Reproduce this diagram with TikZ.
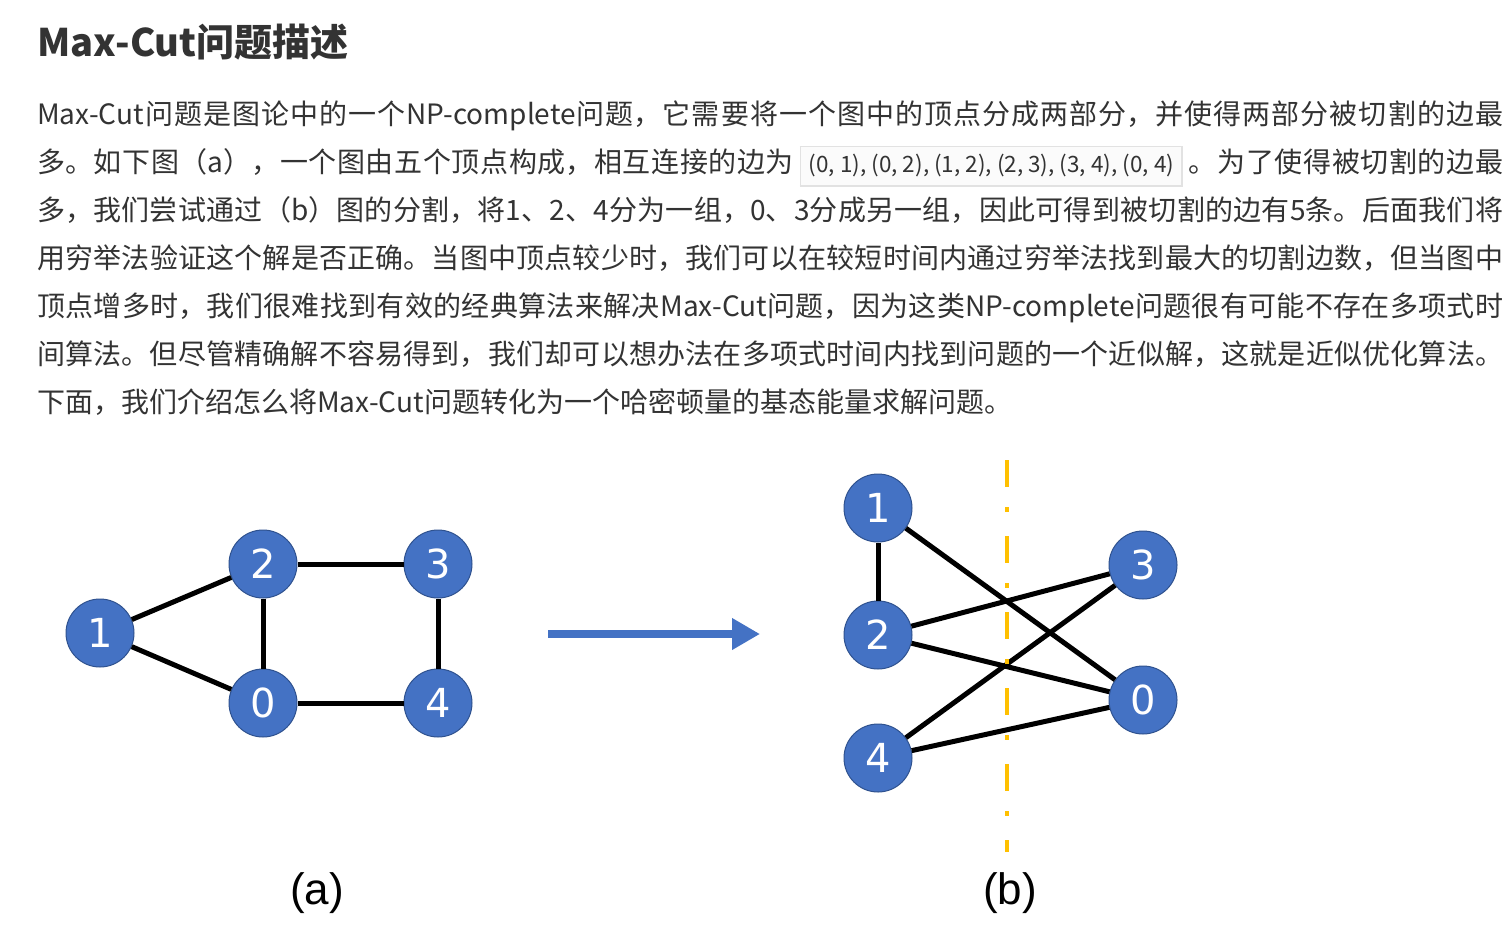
\documentclass[tikz,border=0pt]{standalone}
\usepackage{fontspec}
\setmainfont{Noto Sans CJK SC}
\newfontfamily\digitfont{DejaVu Sans}
\newfontfamily\labfont{Liberation Sans}
\usetikzlibrary{arrows.meta}
\XeTeXlinebreaklocale "zh"
\XeTeXlinebreakskip=0pt plus 3pt
\definecolor{txt}{HTML}{333333}
\definecolor{nodeblue}{HTML}{4472C4}
\definecolor{nodeedge}{HTML}{2F528F}
\definecolor{cutorange}{HTML}{FFC000}
\definecolor{boxline}{HTML}{E2E2E2}
\definecolor{boxbg}{HTML}{FBFBFB}
\newcommand{\codechip}[1]{{\setlength{\fboxsep}{4pt}\setlength{\fboxrule}{1.5pt}\fcolorbox{boxline}{boxbg}{\makebox[372pt]{\rule[-9pt]{0pt}{30pt}\fontsize{22.5}{24}\selectfont\color{txt}#1}}}}
\newcommand{\jline}[1]{\parbox[b]{1466pt}{\parfillskip=0pt\tolerance=10000\hbadness=10000\noindent #1}}
\tikzset{
  body/.style={anchor=base west, inner sep=0pt, text=txt, font=\fontsize{28}{34}\selectfont},
  vtx/.style={circle, fill=nodeblue, draw=nodeedge, line width=1pt, minimum size=68pt, inner sep=0pt, text=white, font=\digitfont\fontsize{40}{40}\selectfont},
  edge/.style={line width=5pt, black},
  caplabel/.style={inner sep=0pt, text=black, font=\labfont\fontsize{44}{44}\selectfont},
}
\begin{document}
\begin{tikzpicture}[x=1pt,y=-1pt]
\fill[white] (0,0) rectangle (1510,940);
\useasboundingbox (0,0) rectangle (1510,940);
\node[anchor=base west, inner sep=0pt, text=txt, font=\bfseries\fontsize{38}{40}\selectfont] (title) at (37,56) {Max-Cut问题描述};
\node[body] (l1) at (37,124) {\jline{Max-Cut问题是图论中的一个NP-complete问题，它需要将一个图中的顶点分成两部分，并使得两部分被切割的边最}};
\node[body] (l2) at (37,172) {\jline{多。如下图（a），一个图由五个顶点构成，相互连接的边为\hspace{6pt}\codechip{(0, 1), (0, 2), (1, 2), (2, 3), (3, 4), (0, 4)}\hspace{6pt}。为了使得被切割的边最}};
\node[body] (l3) at (37,220) {\jline{多，我们尝试通过（b）图的分割，将1、2、4分为一组，0、3分成另一组，因此可得到被切割的边有5条。后面我们将}};
\node[body] (l4) at (37,268) {\jline{用穷举法验证这个解是否正确。当图中顶点较少时，我们可以在较短时间内通过穷举法找到最大的切割边数，但当图中}};
\node[body] (l5) at (37,316) {\jline{顶点增多时，我们很难找到有效的经典算法来解决Max-Cut问题，因为这类NP-complete问题很有可能不存在多项式时}};
\node[body] (l6) at (37,364) {\jline{间算法。但尽管精确解不容易得到，我们却可以想办法在多项式时间内找到问题的一个近似解，这就是近似优化算法。}};
\node[body] (l7) at (37,412) {下面，我们介绍怎么将Max-Cut问题转化为一个哈密顿量的基态能量求解问题。};
% graph (a)
\node[vtx] (a1) at (100,633) {1};
\node[vtx] (a2) at (263,564) {2};
\node[vtx] (a3) at (438,564) {3};
\node[vtx] (a0) at (263,703) {0};
\node[vtx] (a4) at (438,703) {4};
\draw[edge] (a1) -- (a2);
\draw[edge] (a1) -- (a0);
\draw[edge] (a2) -- (a3);
\draw[edge] (a2) -- (a0);
\draw[edge] (a3) -- (a4);
\draw[edge] (a0) -- (a4);
% arrow
\coordinate (arrS) at (548,634);
\coordinate (arrE) at (760,634);
\draw[line width=8pt, nodeblue, -{Triangle[length=28pt,width=30pt]}] (arrS) -- (arrE);
% graph (b)
\node[vtx] (b1) at (878,508) {1};
\node[vtx] (b2) at (878,635) {2};
\node[vtx] (b4) at (878,758) {4};
\node[vtx] (b3) at (1143,565) {3};
\node[vtx] (b0) at (1143,700) {0};
\draw[edge] (b1) -- (b2);
\draw[edge] (b1) -- (b0);
\draw[edge] (b2) -- (b3);
\draw[edge] (b2) -- (b0);
\draw[edge] (b3) -- (b4);
\draw[edge] (b4) -- (b0);
% cut line
\coordinate (cutTop) at (1007,460);
\coordinate (cutBot) at (1007,852);
\draw[cutorange, line width=4.5pt, dash pattern=on 27pt off 20pt on 5pt off 24pt] (cutTop) -- (cutBot);
% captions
\node[caplabel] (capa) at (317,893) {(a)};
\node[caplabel] (capb) at (1010,893) {(b)};
\end{tikzpicture}
\end{document}
